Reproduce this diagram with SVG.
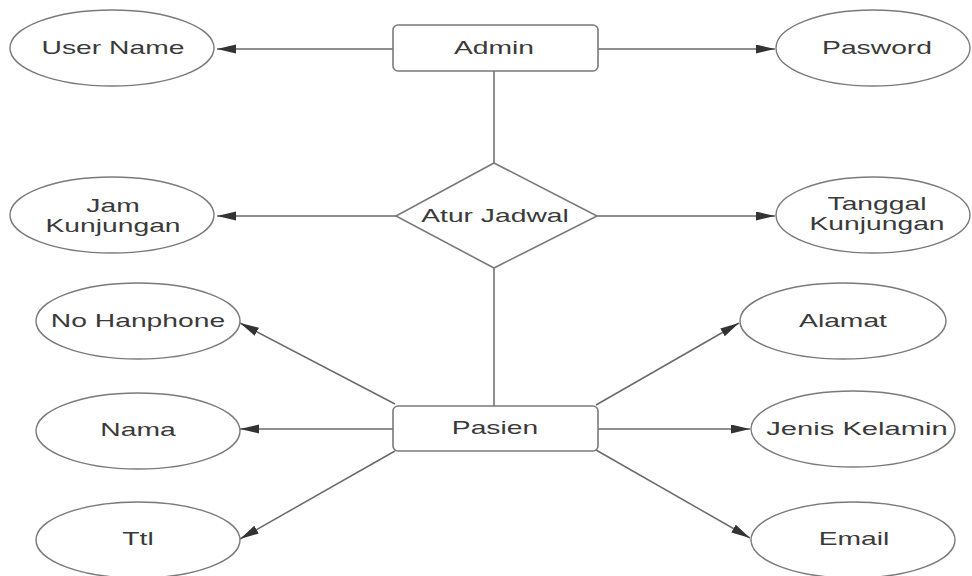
<svg xmlns="http://www.w3.org/2000/svg" width="972" height="576" viewBox="0 0 972 576">
  <style>
    .ent { fill: #ffffff; stroke: #7a7a7a; stroke-width: 1.6; }
    .attr { fill: #ffffff; stroke: #7a7a7a; stroke-width: 1.4; }
    .lbl { font-family: "Liberation Sans", Arial, sans-serif; font-size: 18px; fill: #3a3a3a; text-anchor: middle; }
    .link { stroke: #6a6a6a; stroke-width: 1.5; fill: none; }
    .arrow { marker-end: url(#head); }
  </style>
  <defs>
    <marker id="head" markerUnits="userSpaceOnUse" markerWidth="20" markerHeight="10" refX="19" refY="4.5" orient="auto">
      <path d="M0,0 L19,4.5 L0,9 Z" fill="#333333"/>
    </marker>
  </defs>
  <rect width="972" height="576" fill="#ffffff"/>

  <g id="connectors">
    <line class="link arrow" x1="393" y1="49" x2="217" y2="49"/>
    <line class="link arrow" x1="598" y1="49" x2="775" y2="49"/>
    <line class="link" x1="494" y1="71" x2="494" y2="163"/>
    <line class="link arrow" x1="396" y1="216" x2="217" y2="216"/>
    <line class="link arrow" x1="597" y1="216" x2="775" y2="216"/>
    <line class="link" x1="494" y1="268" x2="494" y2="406"/>
    <line class="link arrow" x1="395" y1="404" x2="240" y2="323"/>
    <line class="link arrow" x1="393" y1="429" x2="240" y2="429"/>
    <line class="link arrow" x1="395" y1="451" x2="240" y2="539"/>
    <line class="link arrow" x1="596" y1="405" x2="739" y2="323"/>
    <line class="link arrow" x1="598" y1="429" x2="750" y2="429"/>
    <line class="link arrow" x1="596" y1="450" x2="750" y2="538"/>
  </g>

  <g id="admin">
    <rect class="ent" x="393" y="25" width="205" height="46" rx="5"/>
    <text class="lbl" transform="translate(494,54) scale(1.57,1)">Admin</text>
  </g>
  <g id="user-name">
    <ellipse class="attr" cx="112" cy="48" rx="102" ry="38"/>
    <text class="lbl" transform="translate(113,54) scale(1.57,1)">User Name</text>
  </g>
  <g id="pasword">
    <ellipse class="attr" cx="873" cy="48" rx="97" ry="38"/>
    <text class="lbl" transform="translate(877,54) scale(1.57,1)">Pasword</text>
  </g>

  <g id="atur-jadwal">
    <polygon class="ent" points="494,163 597,216 494,268 396,216"/>
    <text class="lbl" transform="translate(495,222) scale(1.57,1)">Atur Jadwal</text>
  </g>
  <g id="jam-kunjungan">
    <ellipse class="attr" cx="112" cy="215" rx="102" ry="38"/>
    <text class="lbl" transform="translate(113,212) scale(1.57,1)">Jam</text>
    <text class="lbl" transform="translate(113,232) scale(1.57,1)">Kunjungan</text>
  </g>
  <g id="tanggal-kunjungan">
    <ellipse class="attr" cx="873" cy="215" rx="97" ry="38"/>
    <text class="lbl" transform="translate(877,210) scale(1.57,1)">Tanggal</text>
    <text class="lbl" transform="translate(877,230) scale(1.57,1)">Kunjungan</text>
  </g>

  <g id="pasien">
    <rect class="ent" x="393" y="406" width="205" height="45" rx="5"/>
    <text class="lbl" transform="translate(495,434) scale(1.57,1)">Pasien</text>
  </g>
  <g id="no-hanphone">
    <ellipse class="attr" cx="138" cy="321" rx="102" ry="38"/>
    <text class="lbl" transform="translate(138,327) scale(1.57,1)">No Hanphone</text>
  </g>
  <g id="nama">
    <ellipse class="attr" cx="138" cy="431" rx="102" ry="38"/>
    <text class="lbl" transform="translate(138,436) scale(1.57,1)">Nama</text>
  </g>
  <g id="ttl">
    <ellipse class="attr" cx="138" cy="540" rx="102" ry="38"/>
    <text class="lbl" transform="translate(138,545) scale(1.57,1)">Ttl</text>
  </g>
  <g id="alamat">
    <ellipse class="attr" cx="843" cy="321" rx="103" ry="38"/>
    <text class="lbl" transform="translate(843,327) scale(1.57,1)">Alamat</text>
  </g>
  <g id="jenis-kelamin">
    <ellipse class="attr" cx="853" cy="429" rx="102" ry="38"/>
    <text class="lbl" transform="translate(857,435) scale(1.62,1)">Jenis Kelamin</text>
  </g>
  <g id="email">
    <ellipse class="attr" cx="853" cy="540" rx="102" ry="38"/>
    <text class="lbl" transform="translate(854,545) scale(1.57,1)">Email</text>
  </g>
</svg>
